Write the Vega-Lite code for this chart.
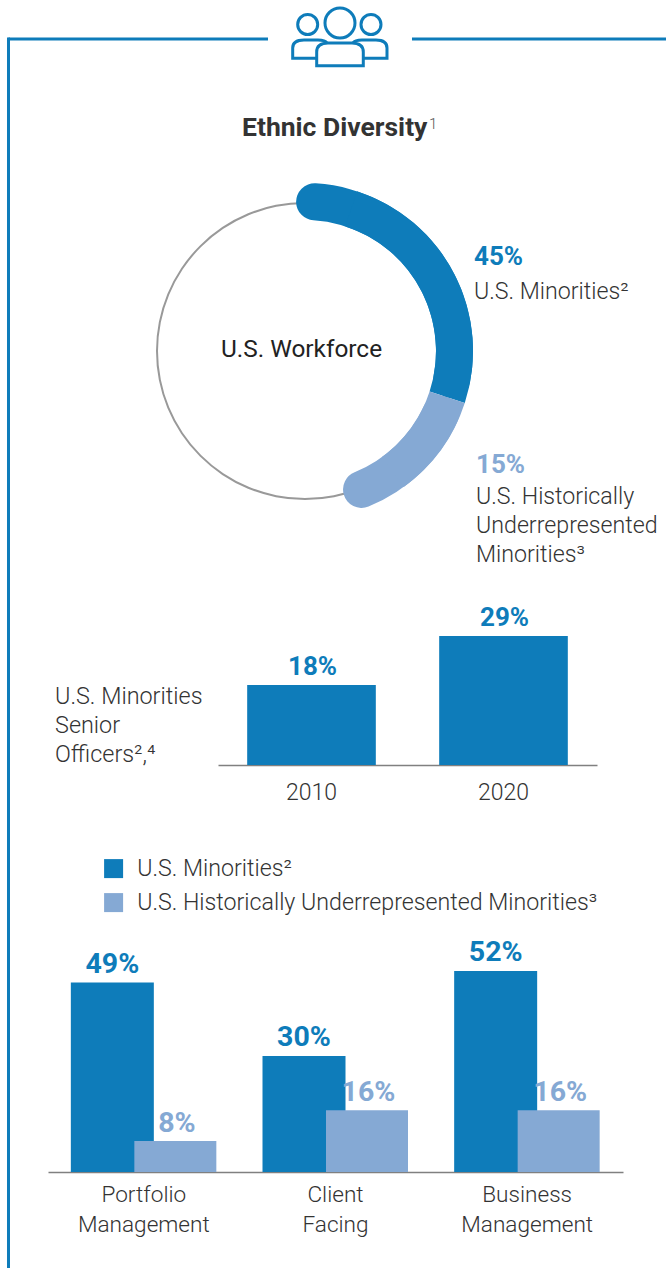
{
"$schema":"https://vega.github.io/schema/vega-lite/v6.json",
"width":666,"height":1268,"padding":0,
"autosize":{"type":"fit","contains":"padding"},
"background":"white",
"config":{"view":{"stroke":null},"text":{"font":"Roboto"},"axis":{"labelFont":"Roboto","labelFontWeight":300,"labelFontSize":23,"labelColor":"#333333","ticks":false,"grid":false,"title":null,"domainColor":"#808080","domainWidth":1.5}},
"resolve":{"scale":{"x":"independent","y":"independent"}},
"layer":[
{"data":{"values":[{"a":1}]},"mark":{"type":"rule","stroke":"#0e7cba","strokeWidth":3},
 "encoding":{"x":{"datum":1.276,"scale":{"domain":[0,100],"range":[0,666]},"axis":null},"x2":{"datum":40.24},"y":{"datum":3.076,"scale":{"domain":[0,100],"range":[0,1268]},"axis":null}}},
{"data":{"values":[{"a":1}]},"mark":{"type":"rule","stroke":"#0e7cba","strokeWidth":3},
 "encoding":{"x":{"datum":61.86,"scale":{"domain":[0,100],"range":[0,666]},"axis":null},"x2":{"datum":100},"y":{"datum":3.076,"scale":{"domain":[0,100],"range":[0,1268]},"axis":null}}},
{"data":{"values":[{"a":1}]},"mark":{"type":"rule","stroke":"#0e7cba","strokeWidth":3},
 "encoding":{"x":{"datum":1.276,"scale":{"domain":[0,100],"range":[0,666]},"axis":null},"y":{"datum":2.96,"scale":{"domain":[0,100],"range":[0,1268]},"axis":null},"y2":{"datum":100}}},
{"data":{"values":[{"a":1}]},"mark":{"type":"point","filled":false,"stroke":"#0e7cba","strokeWidth":3,"opacity":1,"size":10000,
  "shape":"M-0.3,-0.24a0.3,0.3 0 1,0 0.6,0a0.3,0.3 0 1,0 -0.6,0M-0.846,-0.21a0.2,0.2 0 1,0 0.4,0a0.2,0.2 0 1,0 -0.4,0M0.42,-0.21a0.2,0.2 0 1,0 0.4,0a0.2,0.2 0 1,0 -0.4,0M-0.466,0.614L-0.466,0.34Q-0.466,0.16 -0.24,0.16L0.24,0.16Q0.466,0.16 0.466,0.34L0.466,0.614ZM-0.466,0.466L-0.946,0.466L-0.946,0.26Q-0.946,0.1 -0.72,0.1L-0.44,0.1Q-0.3,0.1 -0.26,0.16M0.466,0.466L0.94,0.466L0.94,0.26Q0.94,0.1 0.72,0.1L0.44,0.1Q0.3,0.1 0.26,0.16"},
 "encoding":{"x":{"datum":51.05,"scale":{"domain":[0,100],"range":[0,666]},"axis":null},"y":{"datum":2.76,"scale":{"domain":[0,100],"range":[0,1268]},"axis":null}}},
{"data":{"values":[{"t":"Ethnic Diversity"}]},"mark":{"type":"text","align":"left","baseline":"alphabetic","fontWeight":"bold","fontSize":26.5,"fill":"#333333"},
 "encoding":{"text":{"field":"t"},"x":{"datum":36.34,"scale":{"domain":[0,100],"range":[0,666]},"axis":null},"y":{"datum":10.73,"scale":{"domain":[0,100],"range":[0,1268]},"axis":null}}},
{"data":{"values":[{"t":"1"}]},"mark":{"type":"text","align":"left","baseline":"alphabetic","fontWeight":300,"fontSize":15,"fill":"#555555"},
 "encoding":{"text":{"field":"t"},"x":{"datum":64.4,"scale":{"domain":[0,100],"range":[0,666]},"axis":null},"y":{"datum":10.15,"scale":{"domain":[0,100],"range":[0,1268]},"axis":null}}},
{"data":{"name":"donutData","values":[{"series":"U.S. Minorities²","start":-0.95,"end":30,"bodyStart":5,"bodyEnd":30},{"series":"U.S. Historically Underrepresented Minorities³","start":30,"end":45.8,"bodyStart":30,"bodyEnd":40}]},
 "encoding":{"x":{"datum":0,"scale":{"domain":[-1,1],"range":[157,453]},"axis":null},"y":{"datum":0,"scale":{"domain":[-1,1],"range":[203,499]},"axis":null}},
 "layer":[
  {"data":{"values":[{"ring":0,"full":100}]},"mark":{"type":"arc","innerRadius":147,"outerRadius":149,"fill":"#999999"},"encoding":{"theta":{"field":"ring","type":"quantitative","scale":{"domain":[0,100],"range":[0,6.2832]}},"theta2":{"field":"full"}}},
  {"mark":{"type":"arc","innerRadius":131,"outerRadius":168,"cornerRadius":18.5},"encoding":{"theta":{"field":"start","type":"quantitative","scale":{"domain":[0,100],"range":[0,6.2832]}},"theta2":{"field":"end"},"fill":{"field":"series","type":"nominal","legend":null,"scale":{"domain":["U.S. Historically Underrepresented Minorities³","U.S. Minorities²"],"range":["#85a9d4","#0e7cba"]}}}},
  {"mark":{"type":"arc","innerRadius":131,"outerRadius":168},"encoding":{"theta":{"field":"bodyStart","type":"quantitative","scale":{"domain":[0,100],"range":[0,6.2832]}},"theta2":{"field":"bodyEnd"},"fill":{"field":"series","type":"nominal","legend":null,"scale":{"domain":["U.S. Historically Underrepresented Minorities³","U.S. Minorities²"],"range":["#85a9d4","#0e7cba"]}}}}
 ]},
{"data":{"values":[{"t":"U.S. Workforce"}]},"mark":{"type":"text","align":"center","baseline":"alphabetic","fontSize":24.4,"fill":"#222222"},
 "encoding":{"text":{"field":"t"},"x":{"datum":45.27,"scale":{"domain":[0,100],"range":[0,666]},"axis":null},"y":{"datum":28.15,"scale":{"domain":[0,100],"range":[0,1268]},"axis":null}}},
{"data":{"name":"d1","values":[{"series":"U.S. Minorities²","pct":"45%"},{"series":"U.S. Historically Underrepresented Minorities³","pct":"15%"}]},
 "mark":{"type":"text","align":"left","baseline":"alphabetic","fontWeight":"bold","fontSize":26},
 "encoding":{"text":{"field":"pct"},"x":{"field":"series","type":"nominal","axis":null,"scale":{"type":"point","padding":0,"domain":["U.S. Minorities²","U.S. Historically Underrepresented Minorities³"],"range":[474,476]}},"y":{"field":"series","type":"nominal","axis":null,"scale":{"type":"point","padding":0,"domain":["U.S. Minorities²","U.S. Historically Underrepresented Minorities³"],"range":[265,473]}},"fill":{"field":"series","type":"nominal","legend":null,"scale":{"domain":["U.S. Historically Underrepresented Minorities³","U.S. Minorities²"],"range":["#85a9d4","#0e7cba"]}}}},
{"data":{"values":[{"series":"U.S. Minorities²","label":"U.S. Minorities²"},{"series":"U.S. Historically Underrepresented Minorities³","label":"U.S. Historically\nUnderrepresented\nMinorities³"}]},
 "mark":{"type":"text","align":"left","baseline":"alphabetic","fontWeight":300,"fontSize":23.2,"fill":"#333333","lineBreak":"\n","lineHeight":29},
 "encoding":{"text":{"field":"label"},"x":{"field":"series","type":"nominal","axis":null,"scale":{"type":"point","padding":0,"domain":["U.S. Minorities²","U.S. Historically Underrepresented Minorities³"],"range":[474,476]}},"y":{"field":"series","type":"nominal","axis":null,"scale":{"type":"point","padding":0,"domain":["U.S. Minorities²","U.S. Historically Underrepresented Minorities³"],"range":[299,504]}}}},
{"data":{"values":[{"t":"U.S. Minorities\nSenior\nOfficers²,⁴"}]},"mark":{"type":"text","align":"left","baseline":"alphabetic","fontWeight":300,"fontSize":23.4,"fill":"#333333","lineBreak":"\n","lineHeight":29},
 "encoding":{"text":{"field":"t"},"x":{"datum":8.26,"scale":{"domain":[0,100],"range":[0,666]},"axis":null},"y":{"datum":55.5,"scale":{"domain":[0,100],"range":[0,1268]},"axis":null}}},
{"data":{"name":"off","values":[{"year":"2010","share":18,"pct":"18%"},{"year":"2020","share":29,"pct":"29%"}]},
 "encoding":{"x":{"field":"year","type":"nominal","sort":null,"scale":{"type":"band","range":[218,597],"paddingInner":0.33,"paddingOuter":0.152},"axis":{"orient":"bottom","labelAngle":0,"offset":-501,"labelPadding":16}},"y":{"field":"share","type":"quantitative","axis":null,"scale":{"domain":[0,29],"range":[765,636],"nice":false,"zero":true}}},
 "layer":[
  {"mark":{"type":"bar","fill":"#0e7cba"}},
  {"mark":{"type":"text","align":"center","baseline":"alphabetic","dy":-10,"xOffset":1,"fontWeight":"bold","fontSize":26,"fill":"#0e7cba"},"encoding":{"text":{"field":"pct"}}}
 ]},
{"data":{"name":"fn","values":[
{"area":"Portfolio Management","series":"U.S. Minorities²","share":49,"pct":"49%"},
{"area":"Portfolio Management","series":"U.S. Historically Underrepresented Minorities³","share":8,"pct":"8%"},
{"area":"Client Facing","series":"U.S. Minorities²","share":30,"pct":"30%"},
{"area":"Client Facing","series":"U.S. Historically Underrepresented Minorities³","share":16,"pct":"16%"},
{"area":"Business Management","series":"U.S. Minorities²","share":52,"pct":"52%"},
{"area":"Business Management","series":"U.S. Historically Underrepresented Minorities³","share":16,"pct":"16%"}]},
 "encoding":{
  "x":{"field":"area","type":"nominal","sort":null,"scale":{"type":"band","range":[48,623],"paddingInner":0,"paddingOuter":0},"axis":{"orient":"bottom","labelAngle":0,"offset":-94,"labelPadding":11,"labelFontSize":22.6,"labelLineHeight":30,"labelExpr":"split(datum.label,' ')"}},
  "y":{"field":"share","type":"quantitative","axis":null,"scale":{"domain":[0,52],"range":[1172,971],"nice":false,"zero":true}},
  "color":{"field":"series","type":"nominal","scale":{"domain":["U.S. Minorities²","U.S. Historically Underrepresented Minorities³"],"range":["#0e7cba","#85a9d4"]},
   "legend":{"title":null,"orient":"none","legendX":102,"legendY":857,"symbolType":"square","symbolSize":361,"symbolStrokeWidth":0,"symbolOpacity":1,"labelFont":"Roboto","labelFontWeight":300,"labelFontSize":23.2,"labelColor":"#333333","labelOffset":12,"rowPadding":10,"labelLimit":600}}
 },
 "layer":[
  {"transform":[{"filter":"datum.series === 'U.S. Minorities²'"}],"mark":{"type":"bar","width":83,"xOffset":-31.5,"opacity":1}},
  {"transform":[{"filter":"datum.series === 'U.S. Minorities²'"}],"mark":{"type":"text","align":"center","baseline":"alphabetic","dy":-10,"xOffset":-31.5,"fontWeight":"bold","fontSize":28.5},"encoding":{"text":{"field":"pct"}}},
  {"transform":[{"filter":"datum.series !== 'U.S. Minorities²'"}],"mark":{"type":"bar","width":82,"xOffset":31.5,"opacity":1}},
  {"transform":[{"filter":"datum.series !== 'U.S. Minorities²'"}],"mark":{"type":"text","align":"center","baseline":"alphabetic","dy":-9,"xOffset":33,"fontWeight":"bold","fontSize":28.5},"encoding":{"text":{"field":"pct"}}}
 ]}
]
}
